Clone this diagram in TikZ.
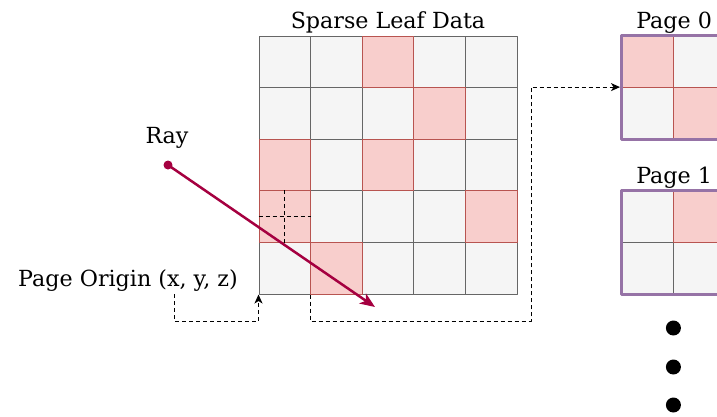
\documentclass[tikz,border=0pt]{standalone}
\usepackage{fontspec}
\setmainfont{DejaVu Serif}
\usetikzlibrary{arrows.meta}
\begin{document}
\begin{tikzpicture}[x=1pt,y=-1pt,line join=round,
  cell/.style={draw=cellline,fill=cellfill,line width=1pt,minimum size=51.6pt,inner sep=0pt},
  hot/.style={cell,draw=hotline,fill=hotfill},
  pagebox/.style={draw=pageline,line width=3pt},
  lbl/.style={font=\fontsize{22.2}{27}\selectfont,inner sep=0pt},
  link/.style={line width=1pt,dash pattern=on 4pt off 3pt,-{Stealth[length=9pt,width=8pt,inset=2.5pt]}},
  dot/.style={circle,fill=black,minimum size=15pt,inner sep=0pt}]
  \definecolor{cellfill}{HTML}{F5F5F5}
  \definecolor{cellline}{HTML}{666666}
  \definecolor{hotfill}{HTML}{F8CECC}
  \definecolor{hotline}{HTML}{B85450}
  \definecolor{pageline}{HTML}{9673A6}
  \definecolor{raycol}{HTML}{A50040}

  \useasboundingbox (0,0) rectangle (717,416);

  % sparse leaf grid
  \foreach \r in {0,...,4}
    \foreach \c in {0,...,4}
      \node[cell] (g\r\c) at ({284.8+51.6*\c},{61.8+51.6*\r}) {};
  \foreach \r/\c in {0/2,1/3,2/0,2/2,3/0,3/4,4/1}
    \node[hot] (h\r\c) at (g\r\c) {};
  \draw[line width=1pt,dash pattern=on 4pt off 3pt] (g30.north) -- (g30.south) (g30.west) -- (g30.east);
  \node[lbl,above=2pt] (title) at (g02.north) {Sparse Leaf Data};

  % page 0
  \foreach \r in {0,1}
    \foreach \c in {0,1}
      \node[cell] (pa\r\c) at ({647.8+51.6*\c},{61.8+51.6*\r}) {};
  \foreach \r/\c in {0/0,1/1}
    \node[hot] at (pa\r\c) {};
  \draw[pagebox] (pa00.north west) rectangle (pa11.south east);
  \node[lbl,above=2pt] (pagea) at (pa00.north east) {Page 0};

  % page 1
  \foreach \r in {0,1}
    \foreach \c in {0,1}
      \node[cell] (pb\r\c) at ({647.8+51.6*\c},{216.6+51.6*\r}) {};
  \node[hot] at (pb01) {};
  \draw[pagebox] (pb00.north west) rectangle (pb11.south east);
  \node[lbl,above=1.5pt] (pageb) at (pb00.north east) {Page 1};

  % more pages
  \foreach \i/\y in {1/328,2/367,3/405}
    \node[dot] (d\i) at (673.4,\y) {};

  % ray
  \node[circle,fill=raycol,minimum size=9pt,inner sep=0pt] (raystart) at (168,165) {};
  \coordinate (rayend) at (375,307);
  \draw[raycol,line width=2.5pt,-{Stealth[length=15pt,width=12pt,inset=4pt]}] (raystart.center) -- (rayend);
  \node[lbl,anchor=base] (raylbl) at (167,143) {Ray};

  % page origin
  \node[lbl,anchor=base] (origin) at (128,286) {Page Origin (x, y, z)};
  \coordinate (otail) at (174,294);
  \coordinate (obend) at (174,321);
  \draw[link] (otail) -- (obend) -| (g40.south west);
  \coordinate (turn) at (531,321);
  \draw[link,shorten >=1.5pt] (g41.south west) |- (turn) |- (pa10.north west);
\end{tikzpicture}
\end{document}
